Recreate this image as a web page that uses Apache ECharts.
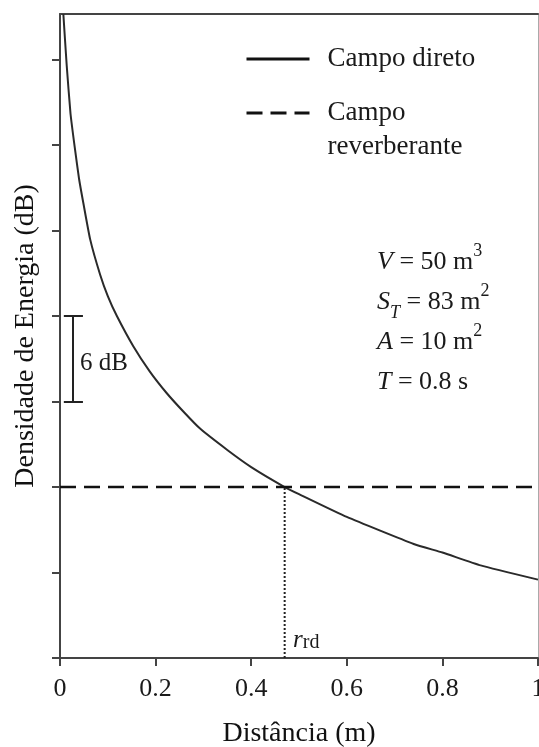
<!DOCTYPE html>
<html>
<head>
<meta charset="utf-8">
<script src="https://cdn.jsdelivr.net/npm/echarts@6/dist/echarts.min.js"></script>
<style>
  html, body { margin: 0; padding: 0; background: #fff; }
  #chart { width: 539px; height: 747px; }
</style>
</head>
<body>
<div id="chart"></div>
<script>
// distancia (m) e densidade de energia (dB)
var distance = [0.007, 0.014, 0.022, 0.031, 0.04, 0.049, 0.063, 0.084, 0.1, 0.119, 0.153, 0.188, 0.223, 0.258, 0.293, 0.35, 0.4, 0.47, 0.5, 0.6, 0.74, 0.8, 0.88, 1.0];
var directDb = [45.2, 41.6, 38.2, 35.8, 33.6, 31.9, 29.4, 26.9, 25.4, 24.0, 21.9, 20.1, 18.6, 17.3, 16.1, 14.6, 13.4, 12.0, 11.5, 9.9, 8.0, 7.4, 6.5, 5.5];
var reverbX = [0, 1];
var reverbDb = [12, 12];
var rrd = 0.47;
var yTicks = [0, 6, 12, 18, 24, 30, 36, 42];
var xTicks = [0, 0.2, 0.4, 0.6, 0.8, 1];
var bracketDb = [18, 24];
var bracketX = [0.008, 0.027, 0.048];
var params = [
    '{i|V} = 50 m{sup|3}',
    '{i|S}{sub|T} = 83 m{sup|2}',
    '{i|A} = 10 m{sup|2}',
    '{i|T} = 0.8 s'
];

var serif = '"Liberation Serif", "DejaVu Serif", serif';

function pairs(xs, ys) {
    var out = [];
    for (var i = 0; i < xs.length; i++) out.push([xs[i], ys[i]]);
    return out;
}

var chart = echarts.init(document.getElementById('chart'));

var option = {
    backgroundColor: '#fff',
    animation: false,
    textStyle: { fontFamily: serif, color: '#1a1a1a' },
    grid: { left: 60, top: 14, right: 1, bottom: 89, containLabel: false, outerBoundsMode: 'none' },
    legend: {
        data: ['Campo direto', 'Campo reverberante'],
        orient: 'vertical',
        left: 245,
        top: 42,
        padding: 0,
        itemGap: -14,
        itemWidth: 63,
        itemHeight: 14,
        lineStyle: { width: 3, color: '#111' },
        itemStyle: { color: 'rgba(0,0,0,0)', borderWidth: 0, opacity: 0 },
        formatter: function (name) {
            return name === 'Campo reverberante' ? '\nCampo\nreverberante' : name;
        },
        textStyle: { fontFamily: serif, fontSize: 27, color: '#1a1a1a', lineHeight: 34, padding: [0, 0, 0, 13] }
    },
    xAxis: [{
        type: 'value',
        min: 0,
        max: 1,
        interval: 0.2,
        name: 'Distância (m)',
        nameLocation: 'middle',
        nameGap: 62,
        nameTextStyle: { fontFamily: serif, fontSize: 28, color: '#111' },
        axisLine: { show: true, onZero: false, lineStyle: { color: '#444', width: 2 } },
        axisTick: { show: true, length: 8, lineStyle: { color: '#444', width: 2 } },
        axisLabel: {
            margin: 18, fontFamily: serif, fontSize: 26, color: '#1a1a1a',
            customValues: xTicks,
            formatter: function (v) { return String(v); }
        },
        splitLine: { show: false }
    }, {
        type: 'value',
        position: 'top',
        min: 0,
        max: 1,
        axisLine: { show: true, onZero: false, lineStyle: { color: '#444', width: 2 } },
        axisTick: { show: false },
        axisLabel: { show: false },
        splitLine: { show: false }
    }],
    yAxis: [{
        type: 'value',
        min: 0,
        max: 45.2,
        interval: 6,
        name: 'Densidade de Energia (dB)',
        nameLocation: 'middle',
        nameGap: 20,
        nameTextStyle: { fontFamily: serif, fontSize: 28, color: '#111' },
        axisLine: { show: true, onZero: false, lineStyle: { color: '#444', width: 2 } },
        axisTick: { show: true, length: 8, customValues: yTicks, lineStyle: { color: '#444', width: 2 } },
        axisLabel: { show: false },
        splitLine: { show: false }
    }, {
        type: 'value',
        position: 'right',
        min: 0,
        max: 45.2,
        axisLine: { show: true, onZero: false, lineStyle: { color: '#aaa', width: 1 } },
        axisTick: { show: false },
        axisLabel: { show: false },
        splitLine: { show: false }
    }],
    series: [{
        name: 'Campo direto',
        type: 'line',
        data: pairs(distance, directDb),
        smooth: 0.15,
        symbol: 'none',
        clip: true,
        lineStyle: { color: '#2a2a2a', width: 2 },
        itemStyle: { color: '#111' }
    }, {
        name: 'Campo reverberante',
        type: 'line',
        data: pairs(reverbX, reverbDb),
        symbol: 'none',
        lineStyle: { color: '#111', width: 2.5, type: [16, 8] },
        itemStyle: { color: '#111' }
    }, {
        name: 'rrd',
        type: 'line',
        data: [[rrd, 0], [rrd, reverbDb[0]]],
        symbol: 'none',
        lineStyle: { color: '#222', width: 2, type: [2, 2] },
        z: 3
    }, {
        name: '6 dB',
        type: 'line',
        data: [],
        symbol: 'none',
        markLine: {
            silent: true,
            symbol: 'none',
            label: { show: false },
            lineStyle: { color: '#222', width: 2, type: 'solid' },
            data: [
                [{ coord: [bracketX[0], bracketDb[1]] }, { coord: [bracketX[2], bracketDb[1]] }],
                [{ coord: [bracketX[1], bracketDb[0]] }, { coord: [bracketX[1], bracketDb[1]] }],
                [{ coord: [bracketX[0], bracketDb[0]] }, { coord: [bracketX[2], bracketDb[0]] }]
            ]
        }
    }],
    graphic: [{
        type: 'text',
        left: 377,
        top: 242,
        style: {
            text: params.join('\n'),
            fontFamily: serif,
            fontSize: 26,
            lineHeight: 40,
            fill: '#1a1a1a',
            rich: {
                i: { fontFamily: serif, fontStyle: 'italic', fontSize: 26, lineHeight: 40 },
                sup: { fontFamily: serif, fontSize: 18, lineHeight: 30, verticalAlign: 'top' },
                sub: { fontFamily: serif, fontStyle: 'italic', fontSize: 18, lineHeight: 30, verticalAlign: 'bottom' }
            }
        }
    }, {
        type: 'text',
        x: 80,
        y: 363,
        style: {
            text: '6 dB',
            fontFamily: serif,
            fontSize: 25,
            fill: '#1a1a1a',
            verticalAlign: 'middle'
        }
    }, {
        type: 'text',
        x: 293,
        y: 640,
        style: {
            text: '{r|r}{s|rd}',
            verticalAlign: 'middle',
            fill: '#1a1a1a',
            rich: {
                r: { fontFamily: serif, fontStyle: 'italic', fontSize: 25, lineHeight: 26 },
                s: { fontFamily: serif, fontSize: 20, lineHeight: 16, verticalAlign: 'bottom' }
            }
        }
    }]
};

chart.setOption(option);
</script>
</body>
</html>
